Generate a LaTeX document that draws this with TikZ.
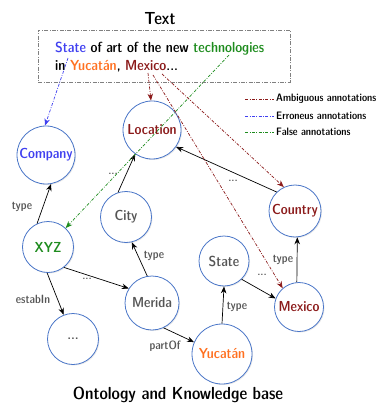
\documentclass[tikz,border=0pt]{standalone}
\usetikzlibrary{arrows.meta,shadows}
\definecolor{cborder}{HTML}{4A76C8}
\definecolor{cblue}{HTML}{4040F0}
\definecolor{cgreen}{HTML}{1E8C1E}
\definecolor{corange}{HTML}{FF7020}
\definecolor{cred}{HTML}{8B1A1A}
\definecolor{cgray}{HTML}{555555}
\newcommand{\dcfont}{\sffamily\fontseries{sbc}\selectfont}
\tikzset{
  every node/.style={font=\dcfont},
  ent/.style={circle, draw=cborder, line width=0.8pt, fill=white, inner sep=0pt,
    minimum size=#1, font=\dcfont\fontsize{14.5}{16}\selectfont,
    drop shadow={opacity=0.18, shadow xshift=1pt, shadow yshift=-1pt}},
  arr/.style={-{Stealth[length=7pt,width=5.5pt]}, line width=0.7pt, black},
  ann/.style={-{Stealth[length=7pt,width=5.5pt]}, line width=0.7pt,
    dash pattern=on 3pt off 1.5pt on 0.8pt off 1.5pt},
  lbl/.style={text=cgray, font=\dcfont\fontsize{12}{14}\selectfont, inner sep=0pt},
  txt/.style={font=\dcfont\fontsize{14.6}{17}\selectfont, inner sep=0pt, anchor=base west},
  ttl/.style={font=\dcfont\fontsize{17.5}{20}\selectfont, inner sep=0pt},
  leg/.style={font=\dcfont\fontsize{10.8}{13}\selectfont, inner sep=0pt, anchor=west},
  legline/.style={line width=0.7pt, dash pattern=on 3pt off 1.5pt on 0.8pt off 1.5pt},
}
\begin{document}
\begin{tikzpicture}[x=1pt,y=-1pt]
\useasboundingbox (0,0) rectangle (381,403);
% text box
\node[ttl] (title) at (160,19) {Text};
\node[draw=gray, line width=0.6pt, dash pattern=on 4pt off 1.5pt on 0.8pt off 1.5pt,
  minimum width=252pt, minimum height=52pt, inner sep=0pt] (box) at (164,56) {};
\node[txt] (line1) at (55,52.7) {\textcolor{cblue}{State} of art of the new \textcolor{cgreen}{technologies}};
\node[txt] (line2) at (55,70.7) {in \textcolor{corange}{Yucat\'an}, \textcolor{cred}{Mexico}...};
\coordinate (sState) at (68,58);
\coordinate (sTech) at (229,55);
\coordinate (sMex1) at (148,73);
\coordinate (sMex2) at (153,75);
\coordinate (sMex3) at (162,74);

% entities
\node[ent=58pt, text=cblue] (Company) at (46,155) {Company};
\node[ent=58pt, text=cred] (Location) at (152,130) {Location};
\node[ent=51pt, text=cgreen] (XYZ) at (48,247) {XYZ};
\node[ent=51pt, text=cgray] (City) at (126,217) {City};
\node[ent=52pt, text=cred] (Country) at (295,211) {Country};
\node[ent=50pt, text=cgray] (State) at (224,261) {State};
\node[ent=49pt, text=cred] (Mexico) at (299,307) {Mexico};
\node[ent=54pt, text=cgray] (Merida) at (152,303) {Merida};
\node[ent=51pt, text=cgray] (Dots) at (73,339) {...};
\node[ent=60pt, text=corange] (Yucatan) at (222,354) {Yucat\'an};

% black relations
\draw[arr] (XYZ.115) -- (Company.-80);
\draw[arr] (XYZ.-92) -- (Dots.111);
\draw[arr] (XYZ.-52) -- (Merida.148);
\draw[arr] (City.108) -- (Location.-125);
\draw[arr] (Merida.100) -- (City.-77);
\draw[arr] (Merida.-65) -- (Yucatan.157);
\draw[arr] (Yucatan.90) -- (State.-90);
\draw[arr] (State.-46) -- (Mexico.160);
\draw[arr] (Mexico.95) -- (Country.-85);
\draw[arr] (Country.134) -- (Location.-35);

% labels
\node[lbl] (l1) at (22,207) {type};
\node[lbl] (l2) at (33,299) {estabIn};
\node[lbl] (l3) at (87,279) {...};
\node[lbl] (l4) at (113,174) {...};
\node[lbl] (l5) at (154,256) {type};
\node[lbl] (l6) at (165,346) {partOf};
\node[lbl] (l7) at (237,307) {type};
\node[lbl] (l8) at (262,275) {...};
\node[lbl] (l9) at (283,260) {type};
\node[lbl] (l10) at (233,181) {...};

% annotations
\draw[ann, cblue] (sState) -- (Company.92);
\draw[ann, cgreen] (sTech) -- (XYZ.47);
\draw[ann, cred] (sMex1) -- (Location.92);
\draw[ann, cred] (sMex2) -- (Mexico.131);
\draw[ann, cred] (sMex3) -- (Country.115);

% legend
\coordinate (a1) at (245,99);  \coordinate (b1) at (274,99);
\coordinate (a2) at (245,116); \coordinate (b2) at (274,116);
\coordinate (a3) at (245,132); \coordinate (b3) at (274,132);
\draw[legline, cred] (a1) -- (b1);
\draw[legline, cblue] (a2) -- (b2);
\draw[legline, cgreen] (a3) -- (b3);
\node[leg] (t1) at (276,99) {Ambiguous annotations};
\node[leg] (t2) at (276,116) {Erroneus annotations};
\node[leg] (t3) at (276,132) {False annotations};

\node[ttl] (foot) at (178,395) {Ontology and Knowledge base};
\end{tikzpicture}
\end{document}
